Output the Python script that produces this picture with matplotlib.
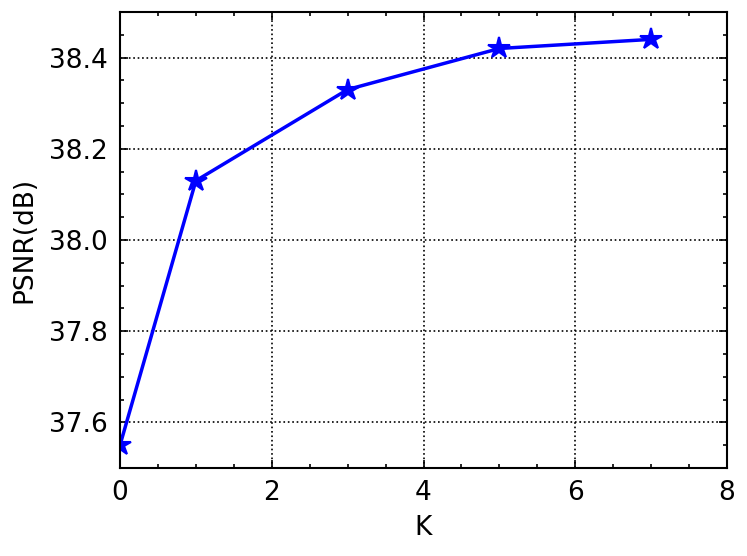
import matplotlib.pyplot as plt
import numpy as np

kValues = [0, 1, 3, 5, 7]
psnrValues = [37.55, 38.13, 38.33, 38.42, 38.44]

plt.rcParams['font.family'] = 'DejaVu Sans'
plt.rcParams['font.size'] = 19

fig = plt.figure(figsize=(7.47, 5.56), dpi=100)
ax = fig.add_axes([120 / 747, 1 - 468 / 556, 607 / 747, 456 / 556])

ax.plot(kValues, psnrValues, color='blue', marker='*', markersize=16,
        markeredgewidth=1.5, linewidth=2.5)

ax.set_xlim(0, 8)
ax.set_ylim(37.5, 38.5)
ax.set_xticks([0, 2, 4, 6, 8])
ax.set_yticks([37.6, 37.8, 38.0, 38.2, 38.4])
ax.set_xticks(np.arange(0, 8.01, 0.5), minor=True)
ax.set_yticks(np.arange(37.5, 38.501, 0.05), minor=True)

ax.grid(True, which='major', linestyle=':', color='black', linewidth=1.2)
ax.tick_params(which='both', direction='in', top=True, right=True, width=1.2)
ax.tick_params(which='major', length=6, pad=9)
ax.tick_params(which='minor', length=3)
for spine in ax.spines.values():
    spine.set_linewidth(1.5)

ax.set_xlabel('K', labelpad=6)
ax.set_ylabel('PSNR(dB)', labelpad=8)

fig.savefig('out.png', dpi=100)
